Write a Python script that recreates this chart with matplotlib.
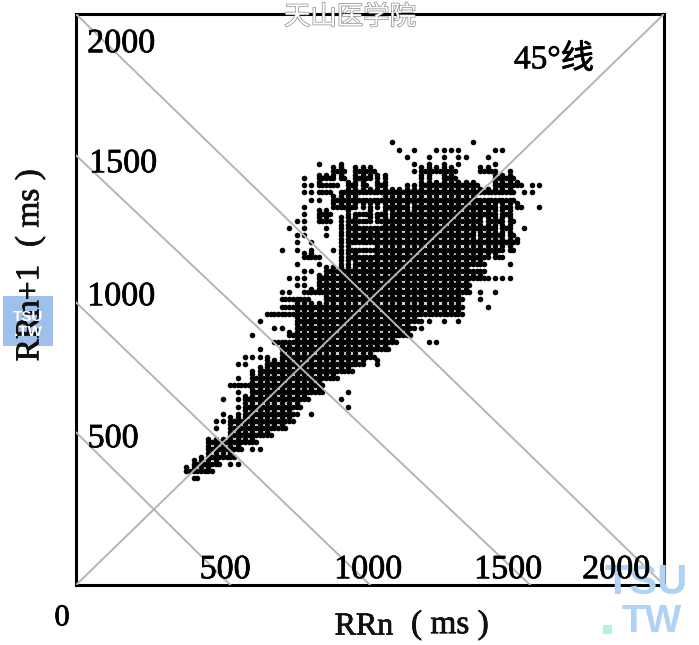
import matplotlib
matplotlib.use('Agg')
import matplotlib.pyplot as plt
import matplotlib.patheffects as pe
from matplotlib.patches import Rectangle
import numpy as np

W, H = 699, 645

# RR interval grid, 25 ms cells
# . empty, o one beat pair, - with right neighbour, | with upper neighbour, # both
rr_col_start = 350
rr_row_top = 1550
rr_cell = 25
rr_half = 12.5
rr_rows = [
    ".............................o..........o",
    "..............................o.o..oooo....oo",
    "...............................o..o.o.oo..o",
    "...................o..o.........o.o.o.o....o",
    ".....................##.###.....o#####...##o.o",
    ".................o.##|#.##|||....||.##.....###",
    ".................oo#--.#|#.#|..oo########..####.oo",
    ".................oo--.-#######################.oo",
    "..................oo.####---#############-----",
    ".................o...###||||###|###########|#|#..o",
    ".................o.##..|--|-|##############|#|",
    "................oo.##.|##-|##############|##|#",
    "...............o.o..o.|##---###############|#|.o",
    "................oo..o.|#################|###|#",
    "................o.o...|#######################|",
    "..............o.o.o..o|#---#################|#",
    ".................##o..|##--###############|#o",
    "................o..o..||##################...o",
    ".................oo.####################--",
    "...............ooo.#######################oooo",
    "................oo.#####################",
    "..............oo.-######################.o.o",
    "..............----..###################..o",
    "..............--#######################...o",
    "............----#######################",
    "...........o....#################oo.o.o",
    ".............oo.################oo",
    "..........o....#################",
    ".............---##############....oo",
    "...........o..###############",
    ".........oooo.#############",
    "........oo..#############|.|",
    "..........o#############",
    "........o.############",
    ".......---##########",
    "........o.##########...o",
    "......o.o#########....o",
    "........o########......o",
    "......o.o#######o.o",
    ".....oo#########",
    ".....o.########",
    ".......######",
    "....#######",
    "....#####.oo",
    "...o####",
    "..####.oo",
    ".####",
    "..-",
]

# anti-diagonal guide lines, where they meet the two axes
guide_y_start = [535, 990, 1505, 2000]
guide_x_end = [525, 1000, 1545, 2000]

y_tick_labels = ['2000', '1500', '1000', '500']
x_tick_labels = ['500', '1000', '1500', '2000']

rr_n = []
rr_n1 = []
for r, row in enumerate(rr_rows):
    y = rr_row_top - r * rr_cell
    for c, ch in enumerate(row):
        if ch == '.':
            continue
        x = rr_col_start + c * rr_cell
        rr_n.append(x)
        rr_n1.append(y)
        if ch in '-#':
            rr_n.append(x + rr_half)
            rr_n1.append(y)
        if ch in '|#':
            rr_n.append(x)
            rr_n1.append(y + rr_half)


def px_text(x, y, s, **kw):
    # text placed by its centre in picture pixels
    kw.setdefault('ha', 'center')
    kw.setdefault('va', 'center')
    return fig.text(x / W, 1 - y / H, s, **kw)


serif = ['Liberation Serif', 'Noto Sans CJK SC']
heavy = [pe.withStroke(linewidth=0.5, foreground='black')]
fig = plt.figure(figsize=(W / 100, H / 100), dpi=100)
ax = fig.add_axes([76 / W, (H - 585) / H, 588 / W, 571 / H])
ax.set_xlim(0, 2000)
ax.set_ylim(0, 2000)
ax.set_xticks([])
ax.set_yticks([])
for s in ax.spines.values():
    s.set_linewidth(2.2)

ax.scatter(rr_n, rr_n1, s=16, c='black', linewidths=0, zorder=2)

ax.plot([0, 2000], [0, 2000], color='#b4b4b4', lw=1.4, zorder=3)
for y0, x1 in zip(guide_y_start, guide_x_end):
    ax.plot([0, x1], [y0, 0], color='#b4b4b4', lw=1.4, zorder=3)

# blue patches go under the labels
fig.add_artist(Rectangle((3 / W, 1 - 346 / H), 50 / W, 50 / H, transform=fig.transFigure,
                         color='#9fc0ea', lw=0, zorder=1))

for (x, y), t in zip([(121, 44), (123, 164), (121, 297), (113, 439)], y_tick_labels):
    px_text(x, y, t, family=serif, fontsize=24.5, color='black', zorder=6, path_effects=heavy)
for (x, y), t in zip([(225, 570), (368, 570), (508, 570), (616, 570)], x_tick_labels):
    px_text(x, y, t, family=serif, fontsize=24.5, color='black', zorder=6, path_effects=heavy)
px_text(62, 618, '0', family=serif, fontsize=22, color='black', path_effects=heavy)
px_text(554, 60, '45°线', family=serif, fontsize=24, color='black', zorder=6, path_effects=heavy)

px_text(364, 627, 'RRn', family=serif, fontsize=23, color='#111111', zorder=6, path_effects=heavy)
px_text(450, 625, '( ms )', family=serif, fontsize=24, color='#111111', zorder=6, path_effects=heavy)
px_text(30, 313, 'RRn+1', family=serif, fontsize=24, rotation=90, color='#111111', zorder=6, path_effects=heavy)
px_text(30, 208, '( ms )', family=serif, fontsize=24, rotation=90, color='#111111', zorder=6, path_effects=heavy)

# watermarks
px_text(350, 17, '天山医学院', family=['Noto Sans CJK SC'], fontsize=19, color='white', zorder=7,
        path_effects=[pe.withStroke(linewidth=1.0, foreground='#8a8a8a')])
px_text(28, 317, 'TSU', family='Liberation Sans', weight='bold', fontsize=11, color='white', zorder=7)
px_text(28, 332, '.TW', family='Liberation Sans', weight='bold', fontsize=11, color='white', zorder=7)
px_text(646, 583, 'TSU', family='Liberation Sans', weight='bold', fontsize=30, color='#b0d2f5', zorder=1.5)
px_text(652, 622, 'TW', family='Liberation Sans', weight='bold', fontsize=28, color='#b0d2f5', zorder=1.5)
fig.add_artist(Rectangle((603 / W, 1 - 634 / H), 9 / W, 9 / H, transform=fig.transFigure,
                         color='#b5efe6', lw=0, zorder=1.5))

fig.savefig('out.png', dpi=100)
